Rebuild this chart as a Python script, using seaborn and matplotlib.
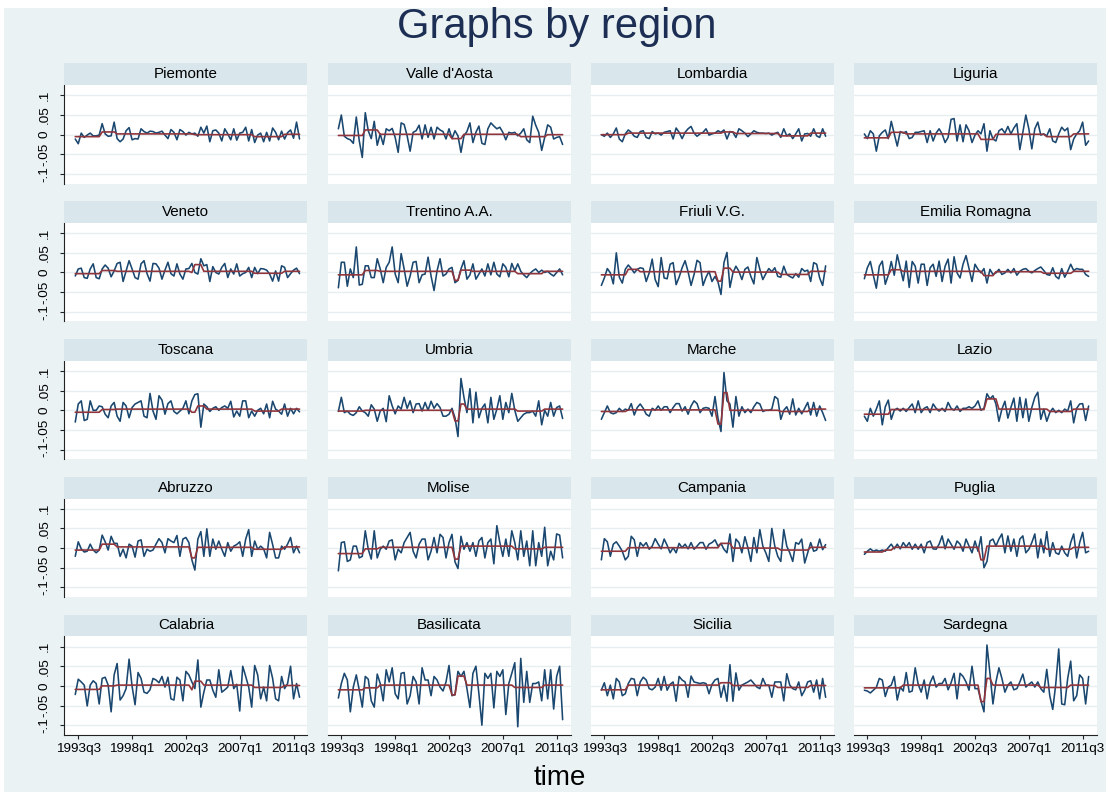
import numpy as np
import pandas as pd
import matplotlib
matplotlib.use("Agg")
import matplotlib.pyplot as plt
import seaborn as sns
from matplotlib.patches import Rectangle

# ---------------------------------------------------------------- data
# Quarterly growth (in percent) and its regime mean, by region.
ALL_QUARTERS = [f"{y}q{q}" for y in range(1993, 2013) for q in range(1, 5)]
QUARTERS = ALL_QUARTERS[ALL_QUARTERS.index("1993q2"):ALL_QUARTERS.index("2012q1") + 1]
TICK_LABELS = ["1993q3", "1998q1", "2002q3", "2007q1", "2011q3"]
Y_TICKS = [-0.1, -0.05, 0.0, 0.05, 0.1]
Y_TICK_LABELS = ["-.1", "-.05", "0", ".05", ".1"]

PIEMONTE = [
    -1.1, -2.3, 0.4, -0.7, -0.1, 0.4, -0.3, -0.3, -0.1, 2.8,
    0.2, -0.4, -0.3, 3.2, -1.0, -1.8, -1.1, 1.0, 1.8, -1.3,
    -1.0, -1.1, 1.5, 0.8, 0.4, 0.9, 0.8, 0.4, 0.6, 0.9,
    -0.1, -1.0, 1.3, 0.6, -1.3, 1.3, 0.8, -0.1, 0.6, 0.2,
    0.4, -0.4, 1.9, 0.4, 2.2, -1.8, 1.0, 1.2, 0.4, -1.6,
    1.5, 0.2, -1.3, 1.5, -1.4, 0.4, 0.6, 1.9, -1.6, 1.3,
    -2.0, -0.1, 0.4, -1.8, 0.6, -1.6, 1.7, 0.6, -1.3, 0.9,
    -1.1, 0.5, 1.2, -0.9, 3.2, -1.1]
PIEMONTE_MEAN = [("1993q2", -0.5), ("1995q3", 0.7), ("1996q4", 0.2),
                 ("2003q2", 0.0), ("2008q2", -0.5), ("2010q4", 0.1)]

VALLE_DAOSTA = [
    1.5, 5.0, -0.4, -1.0, -1.3, -2.2, 4.5, -1.6, -5.8, 5.6,
    1.0, -1.0, 3.4, -2.7, 0.2, -2.5, 1.5, 1.0, 1.6, -0.7,
    -4.5, 3.0, 2.6, -0.3, -4.2, 0.6, 1.0, 2.4, -1.1, 2.5,
    -0.7, 1.9, -1.1, 1.9, 1.2, 0.8, -1.1, 1.5, -1.0, 1.0,
    -0.3, -4.5, -0.3, 0.8, 3.0, -2.0, 0.6, 2.2, -2.2, -2.5,
    1.5, 3.0, 2.2, 1.5, 1.9, 0.6, -1.3, 0.6, 0.4, 0.6,
    -0.3, 0.4, 1.5, -1.3, -2.0, 4.7, 2.4, 0.6, -4.0, -0.7,
    2.5, 1.9, -1.1, -0.7, -0.5, -2.5]
VALLE_DAOSTA_MEAN = [("1993q2", -0.2), ("1995q3", 1.2), ("1996q4", 0.1),
                     ("2002q4", -1.0), ("2003q4", 0.1), ("2008q3", -0.5),
                     ("2010q4", 0.0)]

LOMBARDIA = [
    0.0, -0.4, 0.4, -0.7, 0.2, 1.7, -1.1, -1.8, 0.2, 1.2,
    0.6, -0.4, -0.7, 0.8, 1.0, -0.7, -1.0, 0.8, 0.2, 0.4,
    -0.1, 0.6, 0.8, 1.0, -1.1, 1.7, 0.6, -1.0, 0.6, 1.5,
    2.1, 0.4, -0.4, 0.2, 0.6, 1.5, -0.1, 0.2, 0.4, 1.0,
    0.6, 1.2, -1.1, 0.8, 0.6, -0.7, 1.5, 1.0, 0.4, -0.5,
    0.2, 1.0, 0.6, 0.4, 0.4, 0.3, 0.4, -0.1, 0.3, 0.6,
    -0.7, 1.5, -0.3, 0.2, -1.0, 0.2, 1.5, -1.6, 0.2, 0.3,
    -0.4, 1.5, -0.3, -0.7, 1.5, -0.4]
LOMBARDIA_MEAN = [("1993q2", 0.0), ("1995q3", 0.4), ("2003q3", 0.7),
                  ("2004q3", 0.3), ("2008q2", -0.3), ("2010q4", 0.4)]

LIGURIA = [
    0.2, -1.0, 1.0, 0.2, -4.2, -0.3, 0.6, 1.2, -1.0, 3.4,
    0.2, -2.9, 0.8, 0.4, 0.8, -1.0, -0.7, 0.6, 0.6, 0.8,
    1.0, -2.0, 1.0, -1.6, 0.4, 1.5, 0.2, -2.0, -0.7, 3.9,
    4.1, -1.6, 2.5, -1.8, 2.5, 1.0, -2.0, -0.1, 1.0, 0.2,
    2.8, -4.2, 1.0, -1.1, -1.6, 1.0, 1.5, 0.4, 2.1, 0.2,
    1.7, 2.8, -3.8, 0.6, 5.0, 1.5, -3.6, 1.5, 3.2, -0.1,
    0.2, -0.3, 1.5, -1.6, -2.0, 0.2, 1.9, 1.0, 1.7, -3.8,
    -1.1, 0.2, 1.0, 3.2, -2.7, -1.6]
LIGURIA_MEAN = [("1993q2", -0.8), ("1995q3", 0.6), ("1996q4", 0.2),
                ("2003q1", -1.2), ("2004q2", 0.1), ("2008q3", -0.5),
                ("2010q4", 0.2)]

VENETO = [
    -0.9, 0.9, 1.1, -1.3, -1.5, 0.9, 2.2, -1.3, -1.6, 0.9,
    1.9, 1.1, -1.1, 0.4, 2.3, 2.6, -2.3, 0.4, 3.0, 0.9,
    -1.3, -1.7, 2.2, 3.0, -0.3, -2.2, 2.3, 2.2, 1.1, -1.7,
    0.6, 2.6, -0.3, -0.9, 2.2, -0.4, -1.7, 0.9, 1.0, 2.3,
    0.0, -0.4, 3.5, 1.7, 2.0, -2.3, 1.5, 0.0, -0.4, 1.3,
    2.3, -1.3, 0.9, -0.4, 2.2, -0.9, -0.3, 0.0, 1.3, -1.3,
    1.3, -0.3, 1.0, 0.9, 0.6, -0.4, -2.2, 0.4, -2.2, 1.7,
    1.3, -1.3, -0.3, 0.6, 1.1, -0.3]
VENETO_MEAN = [("1993q2", -0.3), ("1995q3", 0.5), ("1996q4", 0.3),
               ("2003q1", 0.0), ("2003q2", 2.0), ("2004q1", 0.3),
               ("2008q2", -0.2), ("2010q4", 0.3)]

TRENTINO = [
    -3.9, 2.6, 2.6, -3.5, 0.9, -1.3, 6.5, -3.2, -3.0, 1.7,
    1.7, -1.3, -1.3, 3.5, 0.9, -2.6, 1.3, 2.6, 6.5, -0.4,
    -2.6, 4.8, 0.9, -3.5, -0.9, 2.6, 2.8, -2.6, -0.6, -0.4,
    3.9, -0.9, -4.6, 0.4, 3.5, -0.9, -0.4, 0.9, 1.3, -2.6,
    -2.0, 0.9, 3.0, -1.7, -0.6, 2.2, -1.7, -0.4, 0.9, -0.9,
    2.2, -0.6, 2.6, -0.4, -1.1, 2.2, 1.3, -1.1, 2.3, 0.4,
    2.2, 0.3, -0.6, -1.3, -0.3, 0.4, 0.9, 0.0, 0.6, 0.0,
    0.3, -0.4, -0.9, 0.0, 0.9, -0.6]
TRENTINO_MEAN = [("1993q2", -0.6), ("1995q3", 0.5), ("1996q4", 0.3),
                 ("2003q1", -2.0), ("2003q3", 0.6), ("2004q3", 0.3),
                 ("2008q2", -0.3), ("2010q3", 0.3)]

FRIULI = [
    -3.3, -1.4, 1.0, -0.1, -2.9, 5.0, -1.2, -2.7, 0.8, 1.9,
    1.0, -0.1, 0.8, 1.2, 1.0, -2.3, -0.1, 3.4, -1.8, -3.6,
    3.8, -1.4, -1.6, 2.1, 2.5, -3.1, -1.2, 1.2, 3.0, 0.2,
    -3.3, -0.5, 3.1, 2.5, -3.3, -1.2, 0.3, -2.3, -1.0, -2.4,
    -5.6, 2.5, 5.1, -3.8, -0.1, 1.6, 0.3, -1.8, 0.8, 1.4,
    -1.0, -2.9, 3.8, 0.8, -1.8, -0.3, 1.0, 0.2, 1.2, -1.0,
    -1.2, 1.6, -0.5, -1.0, -1.4, -0.3, -1.2, 1.0, 0.3, 0.6,
    -2.3, 2.5, 2.1, -1.4, -3.3, 1.7]
FRIULI_MEAN = [("1993q2", -0.6), ("1995q3", 0.8), ("1996q3", 0.2),
               ("2003q1", -2.2), ("2003q3", 1.1), ("2004q2", 0.1),
               ("2008q2", -0.5), ("2010q4", 0.3)]

EMILIA = [
    -1.6, 1.2, 2.8, -0.7, -4.0, 1.6, 2.9, -3.0, -0.7, 2.8,
    -0.7, 4.5, 1.2, -2.1, 2.9, -3.8, 2.8, 1.6, -2.7, 2.1,
    2.1, -3.3, 1.2, 2.1, -1.0, 2.9, -2.3, 1.6, 3.4, -2.7,
    4.0, -0.1, -1.4, 2.1, 4.3, 1.0, -2.3, 2.1, 0.8, -0.1,
    1.0, -2.7, 0.8, -0.5, -0.1, 0.8, -0.5, -0.1, 0.8, -0.1,
    1.0, -0.7, 0.3, 0.8, 1.0, 0.3, -0.1, 0.5, 1.0, 1.4,
    0.5, -0.5, -0.7, 1.2, -1.0, -1.6, 1.0, -1.2, 0.3, 2.1,
    0.5, 1.0, 0.8, 0.8, -0.5, -1.0]
EMILIA_MEAN = [("1993q2", -0.6), ("1995q3", 0.7), ("1996q3", 0.3),
               ("2003q2", -0.8), ("2004q2", 0.2), ("2008q2", -0.2),
               ("2010q4", 0.3)]

TOSCANA = [
    -3.0, 1.6, 2.4, -2.6, -2.3, 2.4, 0.0, 0.0, 1.1, 0.9,
    -1.0, -1.9, 1.1, 2.0, -1.5, -2.8, 2.0, 1.1, -1.9, 0.7,
    1.6, 2.0, 2.4, -1.5, -1.9, 4.3, -0.2, -2.3, 3.7, 2.6,
    -1.0, 1.7, 2.4, -0.3, -0.9, -0.2, 0.5, 2.4, -0.9, 2.4,
    4.0, 4.2, -4.3, 1.6, 0.9, -0.3, 0.5, 0.9, 0.0, 0.7,
    1.1, 0.5, 2.3, -1.7, -0.2, -1.5, 2.4, 2.4, -1.9, -0.2,
    -1.5, 0.0, 0.5, -0.9, 1.6, -1.9, 2.3, 0.3, -0.2, -1.0,
    1.6, -1.5, 0.5, -0.9, 0.5, -0.4]
TOSCANA_MEAN = [("1993q2", -0.5), ("1995q3", 0.2), ("1996q4", 0.3),
                ("2003q1", -0.5), ("2003q3", 1.1), ("2004q2", 0.3),
                ("2008q2", -0.2), ("2010q3", 0.3)]

UMBRIA = [
    -0.3, 3.3, -0.6, -0.2, -1.0, -1.3, -0.6, 0.9, -0.2, -0.6,
    -1.5, 1.4, 0.3, -2.8, -0.2, 0.5, -2.9, 3.7, 1.1, -0.9,
    1.1, 0.3, 3.3, 0.5, 2.4, -0.6, 1.6, 1.7, -0.2, 2.0,
    0.0, 2.3, 0.5, 1.7, 0.7, -1.5, -1.5, -1.0, 0.5, -1.9,
    -6.7, 8.1, 3.3, -0.6, 5.5, -3.2, 4.6, -1.9, 0.5, 1.6,
    -3.2, 3.3, -2.3, 0.3, 3.7, -2.3, 2.0, -0.6, 4.3, 0.0,
    -2.8, -1.9, -1.0, -0.6, -0.6, -0.2, -1.5, 2.4, -3.7, 0.0,
    -1.5, 2.0, -1.5, 0.7, 1.1, -2.1]
UMBRIA_MEAN = [("1993q2", -0.2), ("1995q3", 0.0), ("2003q1", -2.7),
               ("2003q3", 1.6), ("2004q1", 0.3), ("2008q2", -0.2),
               ("2010q3", 0.3)]

MARCHE = [
    -2.3, -0.6, 1.1, -0.6, -0.9, -0.6, 0.5, -0.3, 0.3, 0.0,
    1.7, -1.2, 0.7, 1.6, 0.5, -1.0, -1.5, 0.5, 0.0, 1.1,
    0.0, 0.9, 0.9, -0.6, 0.7, 1.7, 1.7, -0.2, 0.9, -1.0,
    1.1, 2.4, 1.7, -0.6, 0.5, 0.7, 0.5, -1.5, 3.5, -2.0,
    -5.4, 9.6, 2.4, 1.6, -4.3, 3.5, -1.5, 0.9, -0.6, 0.3,
    -0.6, 0.9, 2.0, 1.6, -0.3, 0.0, 0.0, 0.3, 3.5, 2.9,
    -2.3, 0.0, 0.9, -1.0, 2.9, -1.2, 0.5, -0.9, 0.5, 2.0,
    -1.2, 2.0, -1.5, 1.1, -0.6, -2.6]
MARCHE_MEAN = [("1993q2", -0.3), ("1995q3", 0.1), ("2003q1", -3.5),
               ("2003q3", 4.5), ("2004q1", 0.0), ("2008q2", -0.3),
               ("2010q4", 0.3)]

LAZIO = [
    -1.5, -2.8, 0.5, -1.5, 0.3, 2.4, -3.7, 0.9, 2.6, -2.3,
    0.0, 0.5, -0.2, 0.5, -0.3, 0.7, 1.6, -0.6, 2.4, -0.6,
    0.5, 0.9, -0.6, 1.6, 0.5, -0.2, 0.5, -0.3, 2.0, 0.5,
    0.0, 1.1, -0.3, 0.5, 0.5, 0.9, 0.5, 1.1, 2.4, 0.0,
    0.5, 4.2, 2.9, 3.7, 1.6, -2.8, 0.3, 2.3, -2.0, 0.7,
    3.1, -2.8, 3.3, -1.9, 2.9, -2.8, 0.7, 3.3, 4.6, -2.3,
    0.3, -2.8, -0.6, 0.5, -0.6, 0.0, -0.6, 0.3, -0.2, 2.4,
    -3.2, 0.5, 1.6, 1.7, -2.6, 1.1]
LAZIO_MEAN = [("1993q2", -1.0), ("1995q3", 0.2), ("2003q3", 2.9),
              ("2004q3", 0.3), ("2008q4", -0.3), ("2010q4", 0.3)]

ABRUZZO = [
    -2.1, 1.6, -0.2, -1.0, -0.8, 1.0, -0.5, -1.2, -0.5, 3.3,
    1.6, -0.5, 3.0, 1.2, 1.2, -2.1, -0.3, -2.5, 1.0, 0.5,
    -2.3, 1.8, 2.1, -2.1, -0.3, -0.8, -0.5, 1.0, 2.4, 1.4,
    -1.2, 2.4, 1.8, 1.4, 3.2, -2.1, 2.3, 2.7, 1.4, -3.0,
    -5.6, 2.3, 4.2, -2.1, 4.9, -2.1, 2.3, -0.3, 1.8, -0.3,
    -2.1, 1.4, -0.8, 0.5, 0.9, 1.6, -2.1, 2.3, 4.7, -2.1,
    1.8, -0.3, 0.5, -0.2, -2.5, 4.0, 0.9, -2.5, -2.5, 0.5,
    -0.3, 1.0, 2.7, -1.2, 0.5, -1.2]
ABRUZZO_MEAN = [("1993q2", -0.5), ("1995q3", 1.0), ("1996q4", 0.3),
                ("2003q1", -2.5), ("2003q3", 0.2), ("2008q2", -0.3),
                ("2010q4", 0.3)]

MOLISE = [
    -5.8, 1.4, 1.6, -3.4, -3.0, 0.5, 0.5, -2.5, -2.1, 4.4,
    -0.3, -2.8, 4.4, -2.5, -0.3, 0.5, -0.3, 1.8, 2.1, -3.0,
    -0.3, -1.2, 1.4, 2.7, 4.0, -0.8, -2.5, 1.0, 2.3, 2.3,
    -3.0, -0.8, 2.7, -1.2, 3.5, 2.7, -2.5, 1.4, 3.5, -3.5,
    -5.2, 3.0, -0.3, 1.4, -0.8, 1.4, -2.1, 1.8, 2.7, -2.5,
    1.4, 2.3, -4.0, 5.7, 1.4, -2.1, 2.3, -2.1, 4.4, 1.4,
    -3.0, 4.4, -2.1, 1.8, -4.5, 4.4, -4.5, 1.4, -2.1, 5.3,
    -4.5, -0.8, -3.0, 3.6, 3.3, -2.5]
MOLISE_MEAN = [("1993q2", -1.4), ("1995q3", -0.2), ("1996q4", 0.2),
               ("2003q1", -2.8), ("2003q3", 0.5), ("2008q1", -0.2),
               ("2010q3", 0.2)]

CAMPANIA = [
    -3.0, 2.4, 1.6, -2.1, 1.0, 1.6, 0.5, -0.8, -3.0, -2.1,
    3.0, 2.1, -2.1, 1.4, 0.5, 1.4, -0.3, 0.5, 2.4, 1.0,
    -0.2, 2.3, 0.7, -1.2, 0.1, -1.2, 1.2, 0.1, 1.0, -0.2,
    1.4, -0.3, 0.5, 1.4, 1.4, -0.3, 1.0, 1.4, 2.1, 0.5,
    1.2, -0.3, -1.2, 3.6, -3.4, 2.3, 1.4, -1.2, 2.9, 0.1,
    -3.4, 2.7, -1.2, 4.7, 0.5, -1.2, -3.4, 5.0, 0.5, -2.1,
    -3.4, 4.7, 0.5, -1.2, -3.4, 1.4, 1.0, 2.3, -3.8, -1.2,
    1.4, -0.8, -0.5, 2.3, -0.4, 0.9]
CAMPANIA_MEAN = [("1993q2", -0.8), ("1995q3", 0.1), ("2003q2", 1.2),
                 ("2004q2", 0.0), ("2008q2", -0.5), ("2010q4", 0.2)]

PUGLIA = [
    -1.6, -0.8, -0.2, -0.8, -0.5, -0.8, -0.5, -0.8, 0.1, 1.0,
    -0.2, 1.0, -0.2, 1.4, 0.3, 1.4, -0.3, 1.0, -0.3, 1.0,
    -1.2, 1.4, 1.8, -0.2, -0.3, 1.0, 3.1, -0.2, 2.3, 1.0,
    -0.3, 1.8, 1.0, -0.8, 2.3, 0.5, -1.2, 1.8, -0.8, 2.9,
    -5.0, -3.4, 1.8, 2.3, 0.5, 2.3, 3.6, -1.2, 3.1, -0.8,
    2.3, -2.1, 2.3, 3.1, -1.2, -0.3, 1.4, 3.6, -2.5, 2.3,
    -1.2, 4.2, -2.1, 1.4, -1.2, -1.6, 0.5, -1.2, -2.1, 1.4,
    3.6, -2.5, 1.4, 4.0, -1.2, -0.8]
PUGLIA_MEAN = [("1993q2", -1.0), ("1995q1", -0.5), ("1995q4", 0.2),
               ("2003q1", -3.0), ("2003q3", 0.5), ("2008q3", -0.3),
               ("2010q4", 0.2)]

CALABRIA = [
    -2.2, 1.7, 1.0, 0.2, -5.1, 0.2, 1.3, 0.6, -4.6, 1.9,
    2.2, 0.2, -6.6, 2.8, 5.7, -3.6, -2.5, -0.7, 6.8, -0.1,
    -4.8, 3.4, 1.9, -1.6, -1.9, -1.0, 1.9, 1.5, 0.8, 2.4,
    -0.3, 2.2, -3.3, -3.6, 2.2, 1.5, -3.8, 3.7, 2.8, 1.0,
    -0.7, 6.6, -5.4, -1.6, 1.5, 1.5, -1.1, -2.9, 4.1, -1.6,
    -1.0, -0.3, 3.9, -0.7, 0.4, -6.4, 5.0, 2.4, -0.3, -5.4,
    5.2, 2.8, -3.3, -0.3, -3.8, 5.2, 1.9, -3.3, -3.8, 2.4,
    -0.7, 0.6, 5.0, -3.3, 0.6, -2.9]
CALABRIA_MEAN = [("1993q2", -0.9), ("1995q3", 0.0), ("1996q4", 0.2),
                 ("2003q1", -1.0), ("2003q2", 1.2), ("2004q1", 0.2),
                 ("2008q2", -0.4), ("2010q4", 0.1)]

BASILICATA = [
    -3.1, 0.6, 3.2, 1.5, -6.6, -0.3, 2.8, -1.1, -5.4, 2.4,
    1.7, -3.8, -5.4, 3.0, 0.6, -3.8, 4.1, 1.0, 4.6, -2.0,
    -3.3, 3.2, 3.4, -4.6, -2.5, 2.4, 1.0, -4.6, 4.6, 1.5,
    1.5, -2.5, 2.4, 1.5, -0.3, -1.3, 1.0, 5.2, -2.5, -2.2,
    3.7, 2.4, 3.7, -0.7, -5.5, 3.2, 5.0, -2.0, -10.0, 3.2,
    1.9, 3.2, -5.6, 3.7, 2.4, 4.1, -7.3, 0.6, 3.2, 5.9,
    -10.4, 7.0, -4.2, 3.7, -4.2, 0.6, 0.6, 1.0, -3.8, 4.1,
    -3.3, 4.1, -5.9, 2.4, 5.0, -8.6]
BASILICATA_MEAN = [("1993q2", -1.0), ("1995q3", -0.5), ("1996q4", 0.2),
                   ("2002q4", -2.3), ("2003q2", 2.5), ("2004q1", 0.2),
                   ("2008q1", -0.4), ("2010q3", 0.2)]

SICILIA = [
    -1.1, 0.8, -2.5, 0.2, -3.3, 1.9, 1.0, -2.5, -2.0, 0.6,
    1.9, 1.7, -2.5, 1.0, 2.2, 1.5, -0.7, -1.0, -0.3, 1.9,
    -1.1, 2.4, -1.1, 0.4, 1.0, -3.9, 2.4, 1.5, 1.0, -2.9,
    2.5, 1.0, 0.8, 0.6, 0.8, 0.6, -2.0, 0.4, 1.5, 1.9,
    -2.9, 0.2, -3.9, 5.4, -3.9, 3.3, -1.1, 0.2, 0.6, 1.0,
    1.5, 0.6, -0.3, -0.7, 1.9, 0.2, 0.2, -2.9, 1.0, 1.0,
    1.0, -3.8, 3.1, 0.2, -0.7, -1.0, 1.0, -2.5, -1.1, 1.0,
    1.3, -1.6, 1.5, -3.3, 1.9, -2.9]
SICILIA_MEAN = [("1993q2", -1.0), ("1995q3", 0.2), ("2003q2", 0.8),
                ("2004q2", 0.1), ("2008q1", -0.4), ("2010q4", 0.1)]

SARDEGNA = [
    -1.1, -1.3, -1.8, -1.1, -0.4, 1.9, 1.5, -2.7, -0.3, 0.2,
    2.4, -3.6, -0.3, -1.3, 3.4, -1.6, -1.3, 4.6, 0.4, -1.6,
    1.5, -3.3, 0.8, 2.5, -0.3, 0.6, 0.6, 1.9, -1.0, 0.8,
    3.2, -3.3, 3.2, 2.4, 1.0, -1.1, 5.0, -0.7, -0.7, -3.8,
    -6.6, 10.4, 3.2, -4.6, 1.0, 4.6, 1.9, -1.6, 0.2, 1.0,
    -1.0, -0.7, 1.0, 3.0, -0.3, 0.4, 1.0, -0.3, 1.0, -0.7,
    -1.6, 4.2, -2.5, -6.0, 0.4, 9.4, -4.6, -4.8, 1.9, 6.3,
    -3.8, -2.5, 2.8, 1.9, -4.6, 2.4]
SARDEGNA_MEAN = [("1993q2", -0.5), ("1996q3", 0.2), ("2003q1", -4.0),
                 ("2003q3", 1.9), ("2004q1", 0.2), ("2008q1", -0.4),
                 ("2010q3", 0.2)]

REGIONS = [
    ("Piemonte", PIEMONTE, PIEMONTE_MEAN),
    ("Valle d'Aosta", VALLE_DAOSTA, VALLE_DAOSTA_MEAN),
    ("Lombardia", LOMBARDIA, LOMBARDIA_MEAN),
    ("Liguria", LIGURIA, LIGURIA_MEAN),
    ("Veneto", VENETO, VENETO_MEAN),
    ("Trentino A.A.", TRENTINO, TRENTINO_MEAN),
    ("Friuli V.G.", FRIULI, FRIULI_MEAN),
    ("Emilia Romagna", EMILIA, EMILIA_MEAN),
    ("Toscana", TOSCANA, TOSCANA_MEAN),
    ("Umbria", UMBRIA, UMBRIA_MEAN),
    ("Marche", MARCHE, MARCHE_MEAN),
    ("Lazio", LAZIO, LAZIO_MEAN),
    ("Abruzzo", ABRUZZO, ABRUZZO_MEAN),
    ("Molise", MOLISE, MOLISE_MEAN),
    ("Campania", CAMPANIA, CAMPANIA_MEAN),
    ("Puglia", PUGLIA, PUGLIA_MEAN),
    ("Calabria", CALABRIA, CALABRIA_MEAN),
    ("Basilicata", BASILICATA, BASILICATA_MEAN),
    ("Sicilia", SICILIA, SICILIA_MEAN),
    ("Sardegna", SARDEGNA, SARDEGNA_MEAN),
]

# ---------------------------------------------------------------- style
BG = "#EAF2F3"
STRIP = "#D9E6EB"
GRID = "#E6EEF0"
BLUE = "#1A476F"
RED = "#90353B"
TITLE_COLOR = "#1C2E54"
AXIS_COLOR = "#222222"

sns.set_theme(style="white")
plt.rcParams["font.family"] = ["Liberation Sans", "DejaVu Sans"]


def step_levels(breaks, n):
    """Expand (start quarter, level) pairs into one value per quarter."""
    out = np.empty(n)
    for q, v in breaks:
        out[QUARTERS.index(q):] = v
    return out


frames = []
n = len(QUARTERS)
for name, growth, mean in REGIONS:
    assert len(growth) == n, (name, len(growth))
    frames.append(pd.DataFrame({
        "region": name,
        "t": np.arange(n),
        "growth": np.asarray(growth) / 100.0,
        "mean": step_levels(mean, n) / 100.0,
    }))
df = pd.concat(frames, ignore_index=True)
names = [r[0] for r in REGIONS]

g = sns.FacetGrid(df, col="region", col_wrap=4, col_order=names,
                  sharex=True, sharey=True, despine=False)
g.map_dataframe(sns.lineplot, x="t", y="growth", color=BLUE, linewidth=1.15,
                estimator=None, errorbar=None, zorder=3)
g.map_dataframe(sns.lineplot, x="t", y="mean", color=RED, linewidth=1.2,
                estimator=None, errorbar=None, zorder=4)
g.set_titles("")
g.set_axis_labels("", "")

fig = g.figure
W, H = 1110, 796
fig.set_size_inches(W / 100, H / 100)
fig.patch.set_facecolor("white")
fig.add_artist(Rectangle((4 / W, 4 / H), (W - 8) / W, (H - 12) / H,
                         transform=fig.transFigure, facecolor=BG,
                         edgecolor="none", zorder=-10))

# panel geometry in pixels
COL_LEFT = [64.4, 327.5, 590.5, 853.5]
COL_WIDTH = 243.0
ROW_TOP = [63.4 + r * 137.8 for r in range(5)]
STRIP_H = 21.7
PLOT_H = 98.5

tick_pos = [QUARTERS.index(q) for q in TICK_LABELS]
# keep 4.63 quarters of room outside the outer ticks, as in the panel frame
x_lo, x_hi = tick_pos[0] - 4.63, tick_pos[-1] + 4.63

for k, ax in enumerate(g.axes.flat):
    r, c = divmod(k, 4)
    x0 = COL_LEFT[c]
    top = ROW_TOP[r]
    ax.set_position([x0 / W, 1 - (top + STRIP_H + PLOT_H) / H,
                     COL_WIDTH / W, PLOT_H / H])
    ax.set_facecolor("white")
    ax.set_xlim(x_lo, x_hi)
    ax.set_ylim(-0.1245, 0.1262)
    ax.set_yticks(Y_TICKS)
    ax.set_xticks(tick_pos)
    ax.yaxis.grid(True, color=GRID, linewidth=1.0, zorder=0)
    ax.xaxis.grid(False)
    ax.set_axisbelow(True)
    for side in ("top", "right", "left", "bottom"):
        ax.spines[side].set_visible(False)
    if c == 0:
        ax.spines["left"].set_visible(True)
        ax.spines["left"].set_color(AXIS_COLOR)
        ax.spines["left"].set_linewidth(0.8)
        ax.set_yticklabels(Y_TICK_LABELS)
        ax.tick_params(axis="y", left=True, labelleft=True, length=3.0,
                       width=0.8, color=AXIS_COLOR, pad=6.8, labelsize=9.7,
                       labelrotation=90, labelcolor="black")
        for lab in ax.get_yticklabels():
            lab.set_va("center")
    else:
        ax.tick_params(axis="y", left=False, labelleft=False)
    if r == 4:
        ax.spines["bottom"].set_visible(True)
        ax.spines["bottom"].set_color(AXIS_COLOR)
        ax.spines["bottom"].set_linewidth(0.8)
        ax.set_xticklabels(TICK_LABELS)
        ax.tick_params(axis="x", bottom=True, labelbottom=True, length=3.0,
                       width=0.8, color=AXIS_COLOR, pad=3.0, labelsize=9.7,
                       labelcolor="black")
    else:
        ax.tick_params(axis="x", bottom=False, labelbottom=False)

    # header strip with the region name
    sax = fig.add_axes([x0 / W, 1 - (top + STRIP_H) / H, COL_WIDTH / W, STRIP_H / H])
    sax.set_facecolor(STRIP)
    sax.set_xticks([])
    sax.set_yticks([])
    for sp in sax.spines.values():
        sp.set_visible(False)
    sax.text(0.5, 0.5, names[k], ha="center", va="center", fontsize=10.9,
             color="black", transform=sax.transAxes)

fig.text(557 / W, 1 - 27 / H, "Graphs by region", ha="center", va="center",
         fontsize=30, color=TITLE_COLOR)
fig.text(560 / W, 1 - 778 / H, "time", ha="center", va="center",
         fontsize=20, color="black")

fig.savefig("out.png", dpi=100, facecolor="white")
